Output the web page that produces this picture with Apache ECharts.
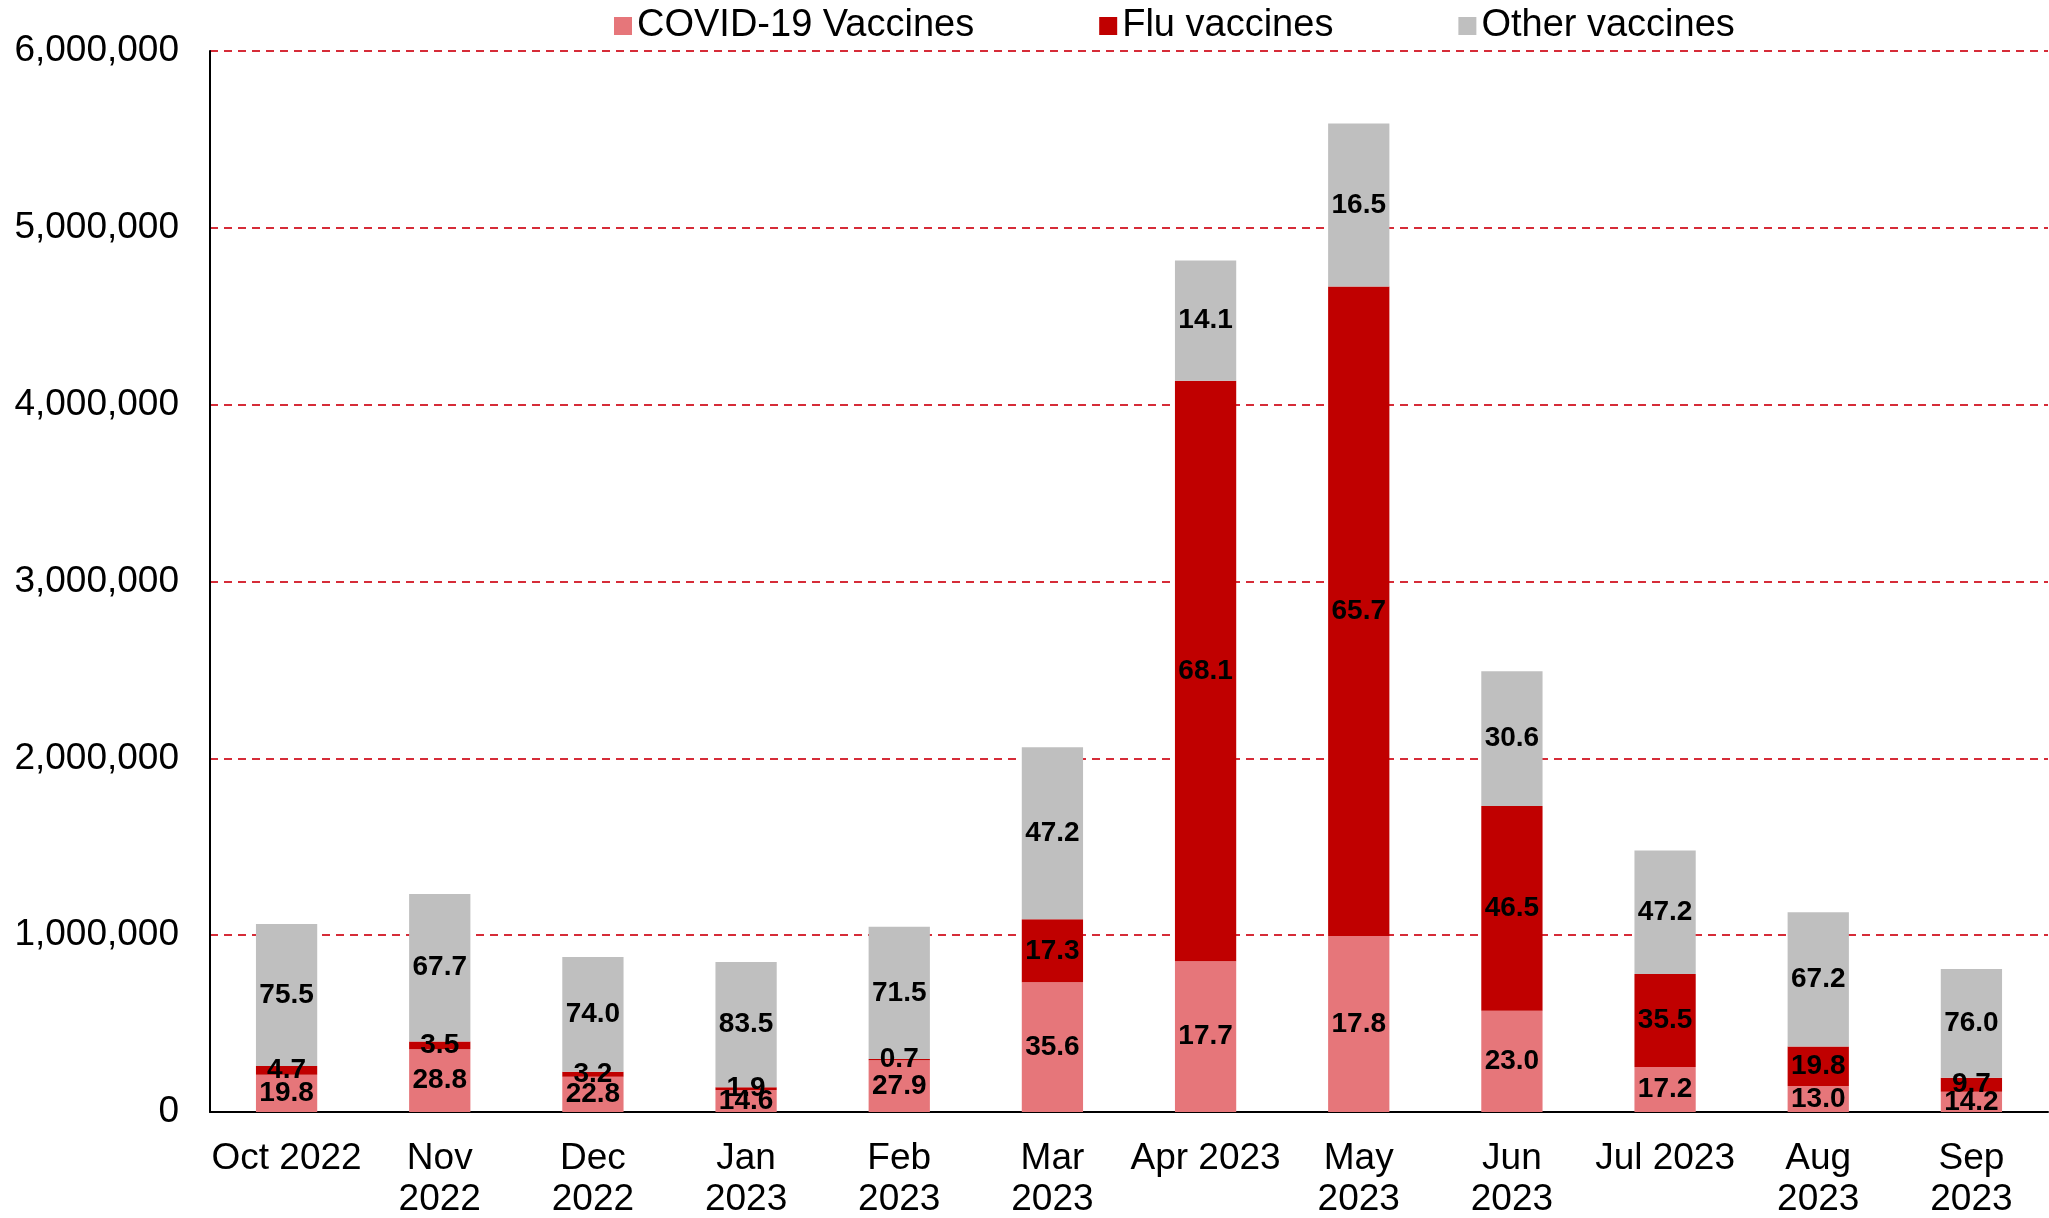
<!DOCTYPE html>
<html>
<head>
<meta charset="utf-8">
<script src="https://cdn.jsdelivr.net/npm/echarts@6/dist/echarts.min.js"></script>
<style>
  html, body { margin: 0; padding: 0; background: #fff; }
  #chart { width: 2049px; height: 1218px; }
</style>
</head>
<body>
<div id="chart"></div>
<script>
// month labels (wrapped like the original)
const months = ['Oct 2022', 'Nov\n2022', 'Dec\n2022', 'Jan\n2023', 'Feb\n2023', 'Mar\n2023',
  'Apr 2023', 'May\n2023', 'Jun\n2023', 'Jul 2023', 'Aug\n2023', 'Sep\n2023']

// total doses per month
const totalDoses = [1063000, 1233000, 877000, 848000, 1047000, 2060000,
  4820000, 5590000, 2490000, 1480000, 1130000, 810000]

// share of each vaccine type, % (printed on the bars)
const covidShare = [19.8, 28.8, 22.8, 14.6, 27.9, 35.6, 17.7, 17.8, 23.0, 17.2, 13.0, 14.2]
const fluShare = [4.7, 3.5, 3.2, 1.9, 0.7, 17.3, 68.1, 65.7, 46.5, 35.5, 19.8, 9.7]
const otherShare = [75.5, 67.7, 74.0, 83.5, 71.5, 47.2, 14.1, 16.5, 30.6, 47.2, 67.2, 76.0]

const seriesNames = ['COVID-19 Vaccines', 'Flu vaccines', 'Other vaccines']
const FONT = '"Liberation Sans", Arial, sans-serif'

function makeSeries(name, share, color) {
  return {
    name: name,
    type: 'bar',
    stack: 'doses',
    barWidth: '40%',
    itemStyle: { color: color },
    data: share.map((p, i) => ({ value: totalDoses[i] * p / 100, pct: p })),
    label: {
      show: true,
      position: 'inside',
      color: '#000',
      fontFamily: FONT,
      fontWeight: 'bold',
      fontSize: 28,
      formatter: (p) => p.data.pct.toFixed(1)
    }
  }
}

const chart = echarts.init(document.getElementById('chart'))
chart.setOption({
  animation: false,
  textStyle: { fontFamily: FONT },
  legend: {
    data: seriesNames,
    left: 609,
    top: 2,
    icon: 'rect',
    itemWidth: 18,
    itemHeight: 18,
    itemGap: 125,
    textStyle: { fontSize: 38, color: '#000', fontFamily: FONT }
  },
  grid: {
    left: 210,
    right: 1,
    top: 51,
    bottom: 106,
    outerBoundsMode: 'none'
  },
  xAxis: {
    type: 'category',
    data: months,
    axisLine: { lineStyle: { color: '#000', width: 2 } },
    axisTick: { show: false },
    axisLabel: {
      color: '#000',
      fontSize: 37,
      lineHeight: 41,
      margin: 26,
      fontFamily: FONT,
      interval: 0
    }
  },
  yAxis: {
    type: 'value',
    min: 0,
    max: 6000000,
    interval: 1000000,
    axisLine: { show: true, lineStyle: { color: '#000', width: 2 } },
    axisTick: { show: false },
    axisLabel: {
      color: '#000',
      fontSize: 37,
      margin: 31,
      padding: [8, 0, 0, 0],
      fontFamily: FONT,
      formatter: (v) => v.toLocaleString('en-US')
    },
    splitLine: {
      lineStyle: { color: '#d62c38', width: 2, type: [8, 6] }
    }
  },
  series: [
    makeSeries(seriesNames[0], covidShare, '#e6767a'),
    makeSeries(seriesNames[1], fluShare, '#c00000'),
    makeSeries(seriesNames[2], otherShare, '#bfbfbf')
  ]
})
</script>
</body>
</html>
